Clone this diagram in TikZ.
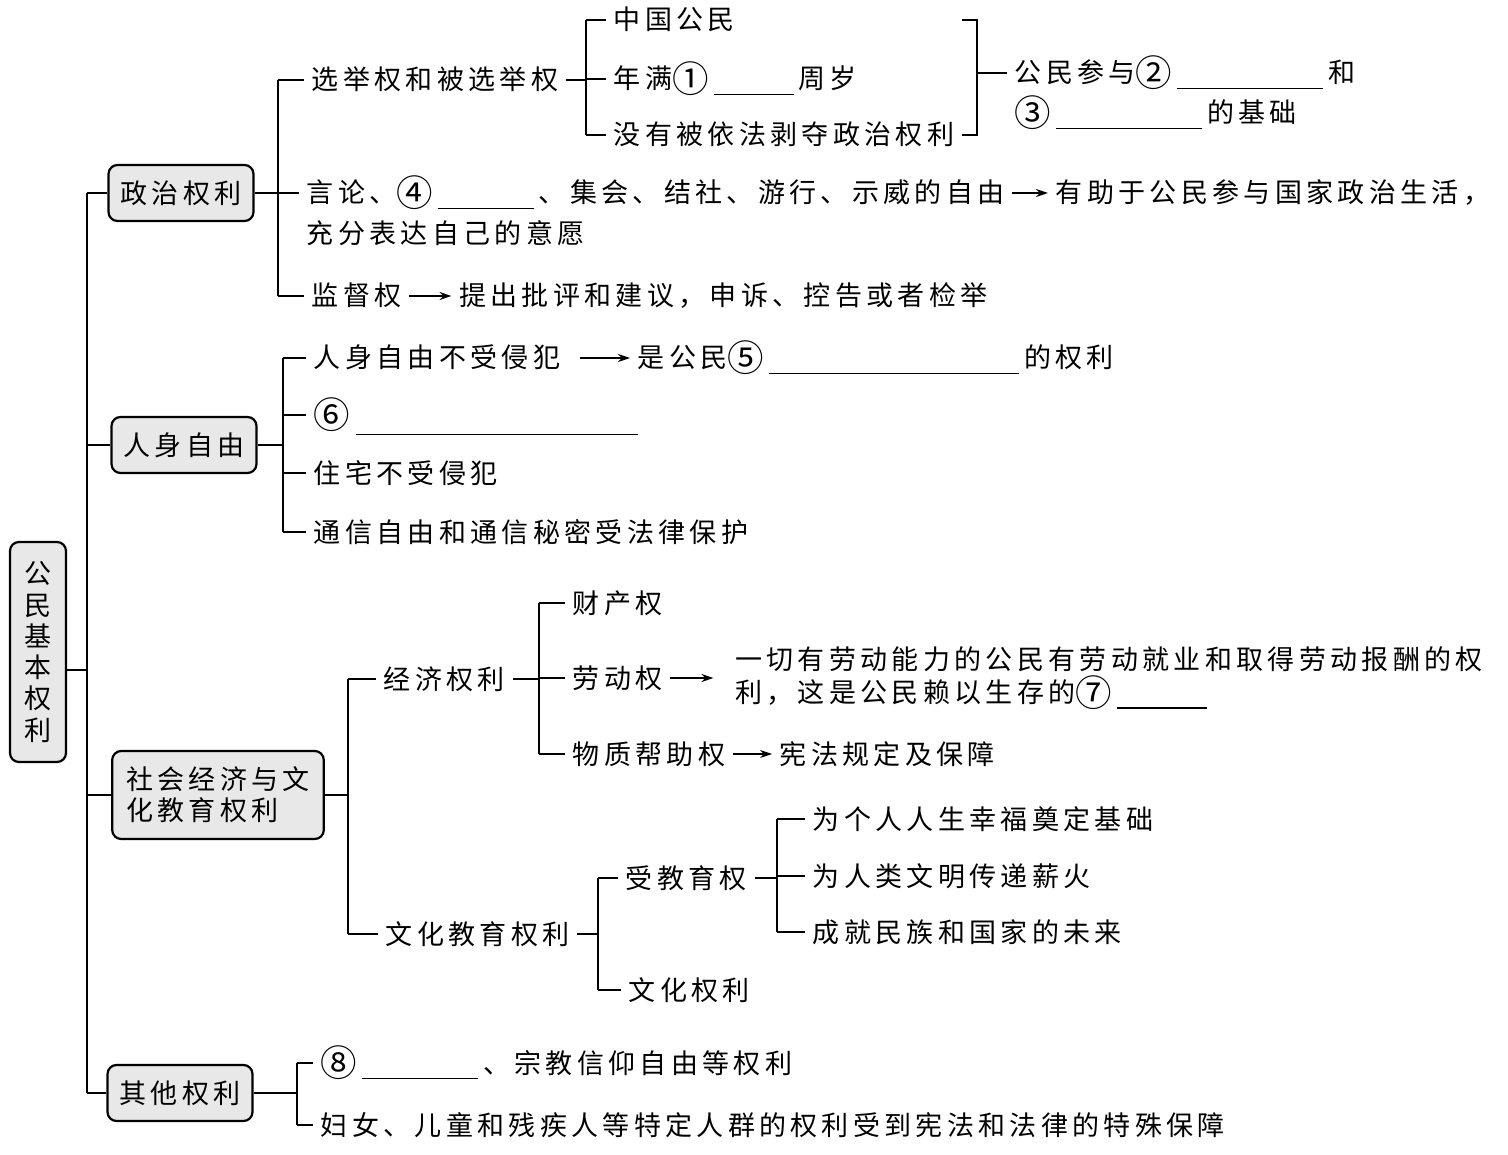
\documentclass[tikz,border=0pt]{standalone}
\usepackage{fontspec}
\usepackage{graphicx}
\setmainfont{Noto Sans CJK SC}[LetterSpace=16]
\usetikzlibrary{arrows.meta,positioning}
\newcommand{\blank}[1]{\hspace{5pt}\rule[-6pt]{#1}{1.2pt}\hspace{5pt}}
\newcommand{\cnum}[1]{\raisebox{-3.5pt}{\scalebox{1.35}{#1}}}

\begin{document}
\begin{tikzpicture}[
    x=1pt, y=-1pt,
    line width=1.8pt,
    font=\fontsize{27}{31.3}\selectfont,
    box/.style={rectangle, rounded corners=9pt, draw, line width=2.2pt, fill=gray!18, inner xsep=12pt, minimum height=56pt, align=left},
    item/.style={anchor=west, inner xsep=7pt, inner ysep=2pt, text height=24pt, text depth=4pt},
    para/.style={anchor=west, inner xsep=7pt, align=left, font=\fontsize{27}{33}\selectfont},
    arrow/.style={-{Stealth[length=12pt, width=8pt]}, line width=1.8pt}
]
    \useasboundingbox (0,0) rectangle (1508,1155);

    % root and the four groups
    \node[box, minimum width=56pt, minimum height=220pt, inner xsep=0pt, align=center] (root) at (38,652) {公\\民\\基\\本\\权\\利};
    \node[box] (zz) at (181,193) {政治权利};
    \node[box] (rs) at (184,445) {人身自由};
    \node[box, inner xsep=14pt, minimum height=88pt] (sh) at (218,795) {社会经济与文\\化教育权利};
    \node[box] (qt) at (180,1093) {其他权利};

    \coordinate (trunk) at (87,0);
    \draw ([yshift=-18pt]root.east) -- ([yshift=-18pt]root.east -| trunk);
    \draw (zz.west -| trunk) -- (qt.west -| trunk);
    \foreach \n in {zz,rs,sh,qt} \draw (\n.west) -- (\n.west -| trunk);

    % 政治权利
    \coordinate (zzs) at (278,0);
    \node[item] (xj) at (304,80) {选举权和被选举权};
    \node[item] (yl) at (299,193) {言论、\cnum{④}\blank{96pt}、集会、结社、游行、示威的自由};
    \node[item] (yl2) at (1048,193) {有助于公民参与国家政治生活，};
    \node[item] (yl3) at (299,234) {充分表达自己的意愿};
    \node[item] (jd) at (304,296) {监督权};
    \node[item, right=42pt of jd] (jd2) {提出批评和建议，申诉、控告或者检举};
    \draw (zz.east) -- (zz.east -| zzs);
    \draw (xj.west -| zzs) -- (jd.west -| zzs);
    \foreach \n in {xj,yl,jd} \draw (\n.west) -- (\n.west -| zzs);
    \draw[arrow] (yl) -- (yl2);
    \draw[arrow] (jd) -- (jd2);

    \coordinate (xjs) at (586,0);
    \node[item] (gm) at (606,20) {中国公民};
    \node[item] (nm) at (606,79) {年满\cnum{①}\blank{80pt}周岁};
    \node[item] (bd) at (606,135) {没有被依法剥夺政治权利};
    \draw (xj.east) -- (xj.east -| xjs);
    \draw (gm.west -| xjs) -- (bd.west -| xjs);
    \foreach \n in {gm,nm,bd} \draw (\n.west) -- (\n.west -| xjs);

    \coordinate (cys) at (977,0);
    \node[item] (cy) at (1007,73) {公民参与\cnum{②}\blank{146pt}和};
    \node[item] (cy2) at (1007,113) {\cnum{③}\blank{146pt}的基础};
    \draw (bd.east |- gm.east) -| (cys |- bd.east) -- (bd.east);
    \draw (cys |- cy.west) -- (cy.west);

    % 人身自由
    \coordinate (rss) at (283,0);
    \node[item] (rs1) at (306,358) {人身自由不受侵犯};
    \node[item, right=62pt of rs1] (rs1b) {是公民\cnum{⑤}\blank{250pt}的权利};
    \node[item] (rs2) at (306,415) {\cnum{⑥}\hspace{6pt}\rule[-10pt]{282pt}{1.2pt}};
    \node[item] (rs3) at (306,473) {住宅不受侵犯};
    \node[item] (rs4) at (306,532) {通信自由和通信秘密受法律保护};
    \draw (rs.east) -- (rs.east -| rss);
    \draw (rs1.west -| rss) -- (rs4.west -| rss);
    \foreach \n in {rs1,rs2,rs3,rs4} \draw (\n.west) -- (\n.west -| rss);
    \draw[arrow, shorten <=12pt] (rs1) -- (rs1b);

    % 社会经济与文化教育权利
    \coordinate (shs) at (348,0);
    \node[item] (jj) at (376,679) {经济权利};
    \node[item] (wh) at (378,934) {文化教育权利};
    \draw (sh.east) -- (sh.east -| shs);
    \draw (jj.west -| shs) -- (wh.west -| shs);
    \foreach \n in {jj,wh} \draw (\n.west) -- (\n.west -| shs);

    \coordinate (jjs) at (539,0);
    \node[item] (cc) at (565,603) {财产权};
    \node[item] (ld) at (565,678) {劳动权};
    \node[item] (wz) at (565,754) {物质帮助权};
    \node[para, right=57pt of ld] (ldb) {一切有劳动能力的公民有劳动就业和取得劳动报酬的权\\利，这是公民赖以生存的\cnum{⑦}\blank{90pt}};
    \node[item, right=39pt of wz] (wzb) {宪法规定及保障};
    \draw (jj.east) -- (jj.east -| jjs);
    \draw (cc.west -| jjs) -- (wz.west -| jjs);
    \foreach \n in {cc,ld,wz} \draw (\n.west) -- (\n.west -| jjs);
    \draw[arrow, shorten >=14pt] (ld) -- (ldb);
    \draw[arrow] (wz) -- (wzb);

    \coordinate (whs) at (598,0);
    \node[item] (sj) at (618,878) {受教育权};
    \node[item] (whq) at (621,990) {文化权利};
    \draw (wh.east) -- (wh.east -| whs);
    \draw (sj.west -| whs) -- (whq.west -| whs);
    \foreach \n in {sj,whq} \draw (\n.west) -- (\n.west -| whs);

    \coordinate (sjs) at (777,0);
    \node[item] (sj1) at (805,819) {为个人人生幸福奠定基础};
    \node[item] (sj2) at (805,876) {为人类文明传递薪火};
    \node[item] (sj3) at (805,932) {成就民族和国家的未来};
    \draw (sj.east) -- (sj.east -| sjs);
    \draw (sj1.west -| sjs) -- (sj3.west -| sjs);
    \foreach \n in {sj1,sj2,sj3} \draw (\n.west) -- (\n.west -| sjs);

    % 其他权利
    \coordinate (qts) at (297,0);
    \node[item] (qt1) at (313,1063) {\cnum{⑧}\blank{116pt}、宗教信仰自由等权利};
    \node[item] (qt2) at (313,1125) {妇女、儿童和残疾人等特定人群的权利受到宪法和法律的特殊保障};
    \draw (qt.east) -- (qt.east -| qts);
    \draw (qt1.west -| qts) -- (qt2.west -| qts);
    \foreach \n in {qt1,qt2} \draw (\n.west) -- (\n.west -| qts);
\end{tikzpicture}
\end{document}
